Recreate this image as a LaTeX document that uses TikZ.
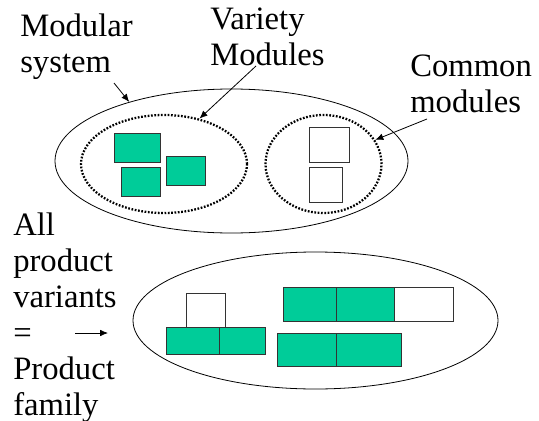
\documentclass[tikz,border=0pt]{standalone}
\usepackage{fontspec}
\setmainfont{Liberation Serif}
\usetikzlibrary{shapes.geometric,arrows.meta}
\newdimen\pxu \pxu=0.75pt
\definecolor{modgreen}{RGB}{0,204,153}
\tikzset{
  tag/.style={anchor=base west, inner sep=0pt, align=left,
    font=\fontsize{24.5}{27}\selectfont},
  outer/.style={draw, ellipse, line width=0.6pt, inner sep=0pt},
  group/.style={draw, ellipse, line width=1.7pt, inner sep=0pt,
    dash pattern=on 1.3pt off 1.2pt},
  modbox/.style={draw=black!80, line width=0.7pt, inner sep=0pt},
  greenbox/.style={modbox, fill=modgreen},
  pointer/.style={-{Latex[length=6pt,width=5pt]}, line width=0.6pt},
}
\begin{document}
\begin{tikzpicture}[x=0.75pt, y=-0.75pt]
 \useasboundingbox (0,0) rectangle (539,421);

 % labels (anchored on the baseline of their last line)
 \node[tag] (msys) at (20,72) {Modular\\system};
 \node[tag] (vmod) at (210,65) {Variety\\Modules};
 \node[tag] (cmod) at (410,112) {Common\\modules};
 \node[tag] (fam) at (13,415) {All\\product\\variants\\=\\Product\\family};

 % the modular system
 \node[outer, minimum width=353\pxu, minimum height=144\pxu] (sys) at (231.5,161) {};
 \node[group, minimum width=166\pxu, minimum height=98\pxu] (var) at (164,164) {};
 \node[group, minimum width=116\pxu, minimum height=98\pxu] (com) at (323.5,164) {};

 \node[greenbox, minimum width=46\pxu, minimum height=29\pxu] (g1) at (137,147.5) {};
 \node[greenbox, minimum width=39\pxu, minimum height=29\pxu] (g2) at (185.5,170.5) {};
 \node[greenbox, minimum width=39\pxu, minimum height=29\pxu] (g3) at (140.5,181.5) {};
 \node[modbox, minimum width=40\pxu, minimum height=35\pxu] (w1) at (329,144.5) {};
 \node[modbox, minimum width=33\pxu, minimum height=35\pxu] (w2) at (325.5,184.5) {};

 % the product family
 \node[outer, minimum width=365\pxu, minimum height=137\pxu] (pfam) at (315.5,320.5) {};

 \node[modbox, minimum width=39\pxu, minimum height=34\pxu] (b1) at (205.5,310) {};
 \node[greenbox, minimum width=53\pxu, minimum height=27\pxu] (b2) at (192.5,340.5) {};
 \node[greenbox, minimum width=46\pxu, minimum height=27\pxu] (b3) at (242,340.5) {};

 \node[greenbox, minimum width=53\pxu, minimum height=34\pxu] (r1) at (309.5,304) {};
 \node[greenbox, minimum width=58\pxu, minimum height=34\pxu] (r2) at (365,304) {};
 \node[modbox, minimum width=59\pxu, minimum height=34\pxu] (r3) at (423.5,304) {};
 \node[greenbox, minimum width=59\pxu, minimum height=33\pxu] (s1) at (306.5,349.5) {};
 \node[greenbox, minimum width=65\pxu, minimum height=33\pxu] (s2) at (368.5,349.5) {};

 % pointers
 \coordinate (msTail) at (114,83);
 \coordinate (vmTail) at (256,66);
 \coordinate (cmTail) at (427,119);
 \coordinate (eqTail) at (75,333);
 \coordinate (eqHead) at (108,333);
 \draw[pointer] (msTail) -- (sys.150.6);
 \draw[pointer] (vmTail) -- (var.52);
 \draw[pointer] (cmTail) -- (com.25);
 \draw[pointer] (eqTail) -- (eqHead);
\end{tikzpicture}
\end{document}
